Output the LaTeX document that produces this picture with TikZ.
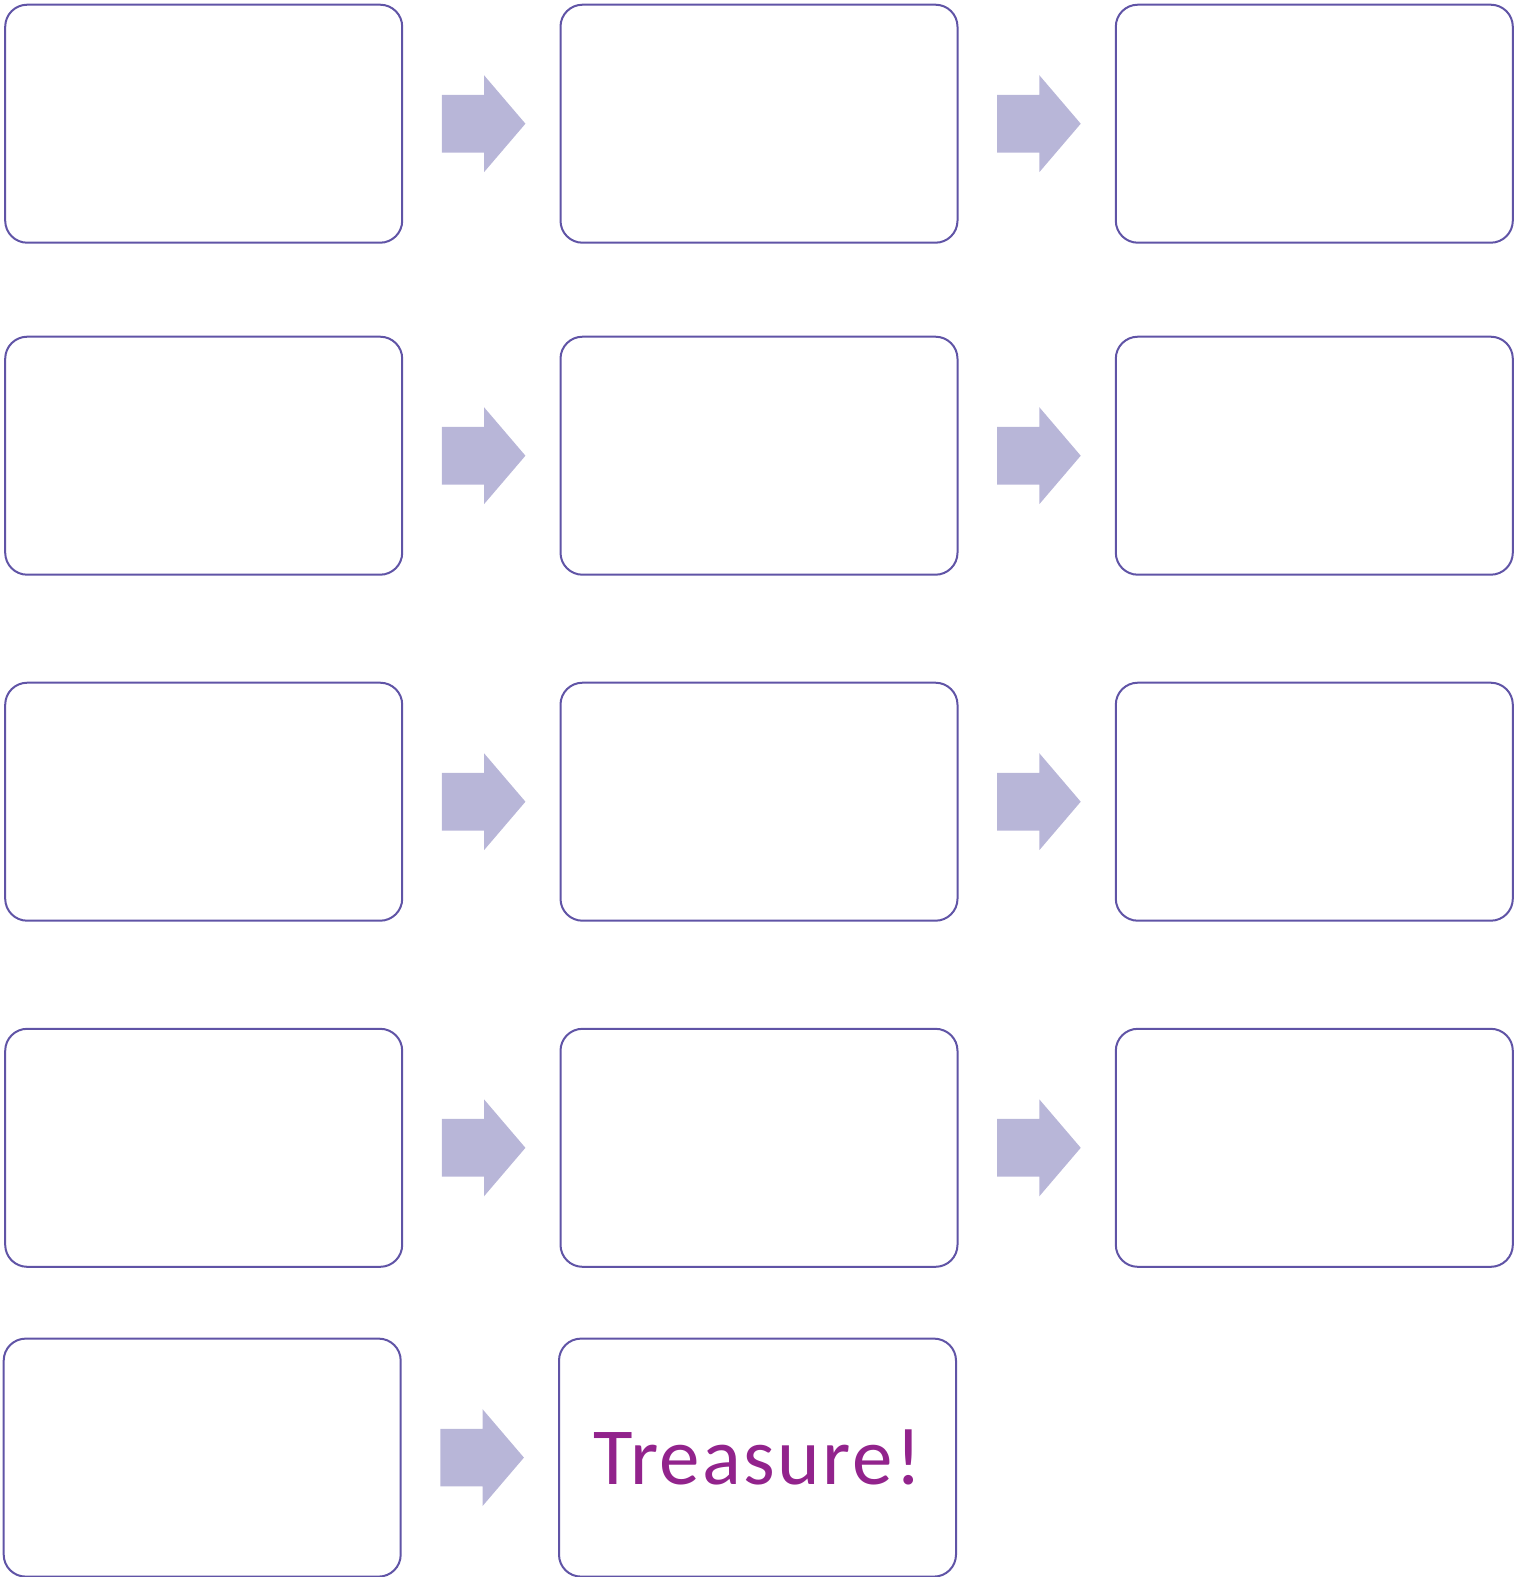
\documentclass[tikz,border=0pt]{standalone}
\usepackage{fontspec}
\setmainfont{Carlito}
\newfontfamily\prizefont[LetterSpace=3]{Carlito}
\usetikzlibrary{positioning, shapes.arrows}
\definecolor{boxline}{RGB}{96,84,166}
\definecolor{arrowfill}{RGB}{184,182,216}
\definecolor{prize}{RGB}{146,35,140}

\begin{document}
\begin{tikzpicture}[
  x=1pt, y=-1pt,
  node distance=156.3pt,
  stepbox/.style={draw=boxline, line width=2pt, rounded corners=22pt, fill=white,
    minimum width=397pt, minimum height=238pt, inner sep=0pt},
  blockarrow/.style={single arrow, fill=arrowfill, draw=none, inner xsep=0pt, inner ysep=28.65pt,
    minimum height=83.5pt, single arrow head extend=19.65pt,
    single arrow tip angle=99, single arrow head indent=0pt, xshift=-10pt},
]
  \useasboundingbox (0,0) rectangle (1525,1577);

  % Row 1
  \node[stepbox] (b11) at (203.7,123.7) {};
  \node[stepbox, right=of b11] (b12) {};
  \node[stepbox, right=of b12] (b13) {};
  \path (b11) -- node[blockarrow] (a11) {} (b12);
  \path (b12) -- node[blockarrow] (a12) {} (b13);

  % Row 2
  \node[stepbox] (b21) at (203.7,455.7) {};
  \node[stepbox, right=of b21] (b22) {};
  \node[stepbox, right=of b22] (b23) {};
  \path (b21) -- node[blockarrow] (a21) {} (b22);
  \path (b22) -- node[blockarrow] (a22) {} (b23);

  % Row 3
  \node[stepbox] (b31) at (203.7,801.7) {};
  \node[stepbox, right=of b31] (b32) {};
  \node[stepbox, right=of b32] (b33) {};
  \path (b31) -- node[blockarrow] (a31) {} (b32);
  \path (b32) -- node[blockarrow] (a32) {} (b33);

  % Row 4
  \node[stepbox] (b41) at (203.7,1147.8) {};
  \node[stepbox, right=of b41] (b42) {};
  \node[stepbox, right=of b42] (b43) {};
  \path (b41) -- node[blockarrow] (a41) {} (b42);
  \path (b42) -- node[blockarrow] (a42) {} (b43);

  % Last row ends with the treasure
  \node[stepbox] (b51) at (202.2,1457.6) {};
  \node[stepbox, right=of b51, text=prize, font=\prizefont\fontsize{81}{90}\selectfont] (treasure) {Treasure!};
  \path (b51) -- node[blockarrow] (a51) {} (treasure);
\end{tikzpicture}
\end{document}
